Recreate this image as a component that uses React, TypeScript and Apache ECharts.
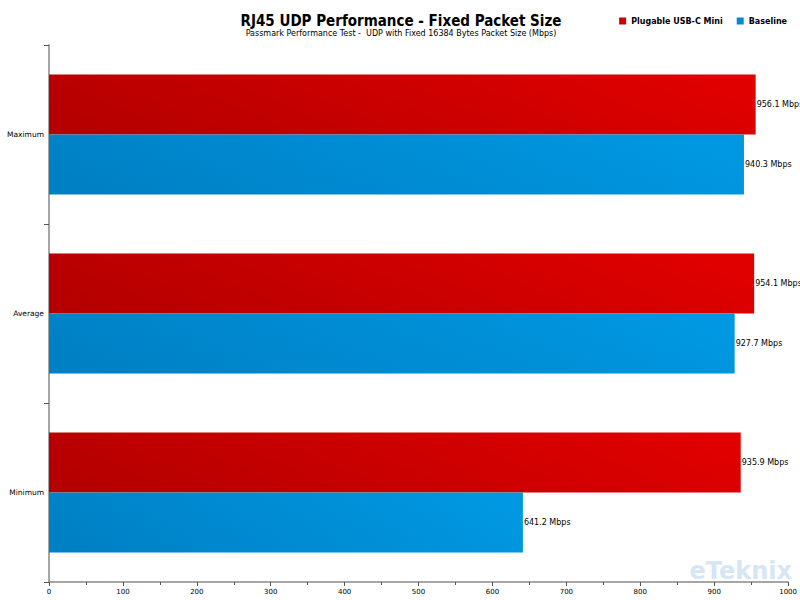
import React, { useEffect, useRef } from "react";
import * as echarts from "echarts";

const categories = ["Maximum", "Average", "Minimum"];
const plugable = [956.1, 954.1, 935.9];
const baseline = [940.3, 927.7, 641.2];
const seriesNames = ["Plugable USB-C Mini", "Baseline"];

export default function App() {
  const ref = useRef<HTMLDivElement>(null);
  useEffect(() => {
    if (!ref.current) return;
    const chart = echarts.init(ref.current, null, { renderer: "svg" });
    const font = "DejaVu Sans";
    const grad = (a: string, b: string) =>
      new echarts.graphic.LinearGradient(0, 0.6, 1, 0.4, [
        { offset: 0, color: a },
        { offset: 1, color: b },
      ]);
    const label = {
      show: true,
      position: "right" as const,
      distance: 1,
      color: "#000",
      fontFamily: font,
      fontSize: 8,
      formatter: (p: any) => `${p.value.toFixed(1)} Mbps`,
    };
    chart.setOption({
      animation: false,
      backgroundColor: "#fff",
      title: {
        text: "RJ45 UDP Performance - Fixed Packet Size",
        subtext: "Passmark Performance Test -  UDP with Fixed 16384 Bytes Packet Size (Mbps)",
        left: 396,
        textAlign: "center",
        top: 8,
        itemGap: 1,
        textStyle: { fontFamily: "DejaVu Sans Condensed", fontSize: 15, fontWeight: "bold", color: "#000" },
        subtextStyle: { fontFamily: font, fontSize: 8, color: "#000" },
      },
      legend: {
        right: 8,
        top: 12,
        itemWidth: 7,
        itemHeight: 7,
        itemGap: 14,
        icon: "rect",
        textStyle: { fontFamily: font, fontSize: 8, fontWeight: "bold", color: "#000" },
        data: [
          { name: seriesNames[0], itemStyle: { color: "#cc0000" } },
          { name: seriesNames[1], itemStyle: { color: "#0088d0" } },
        ],
      },
      grid: { left: 49, right: 9, top: 45, bottom: 18, containLabel: false },
      xAxis: {
        type: "value",
        min: 0,
        max: 1000,
        interval: 100,
        axisLine: { show: true, lineStyle: { color: "#888", width: 1.5 } },
        axisTick: { show: true, length: 4, lineStyle: { color: "#555" } },
        minorTick: { show: true, splitNumber: 2, length: 3, lineStyle: { color: "#555" } },
        splitLine: { show: false },
        axisLabel: {
          fontFamily: font,
          fontSize: 7,
          color: "#000",
          margin: 6,
          formatter: (v: number) => String(v),
        },
      },
      yAxis: {
        type: "category",
        data: categories,
        inverse: true,
        axisLine: { show: true, lineStyle: { color: "#888", width: 1.5 } },
        axisTick: { show: true, length: 5, lineStyle: { color: "#555" } },
        axisLabel: { fontFamily: font, fontSize: 7.5, color: "#000", margin: 5 },
      },
      graphic: [
        {
          type: "text",
          right: 8,
          bottom: 17,
          z: 0,
          style: {
            text: "eTeknix",
            fontFamily: "DejaVu Sans",
            fontWeight: "bold",
            fontSize: 24,
            fill: "#d6e6f4",
          },
        },
      ],
      series: [
        {
          name: seriesNames[0],
          type: "bar",
          data: plugable,
          barWidth: 60,
          barGap: "0%",
          itemStyle: { color: grad("#b50000", "#e00000") },
          label,
        },
        {
          name: seriesNames[1],
          type: "bar",
          data: baseline,
          barWidth: 60,
          barGap: "0%",
          itemStyle: { color: grad("#0080c4", "#0098e2") },
          label,
        },
      ],
    });
    return () => chart.dispose();
  }, []);
  return <div ref={ref} style={{ width: 800, height: 600, position: "absolute", left: 0, top: 0 }} />;
}
